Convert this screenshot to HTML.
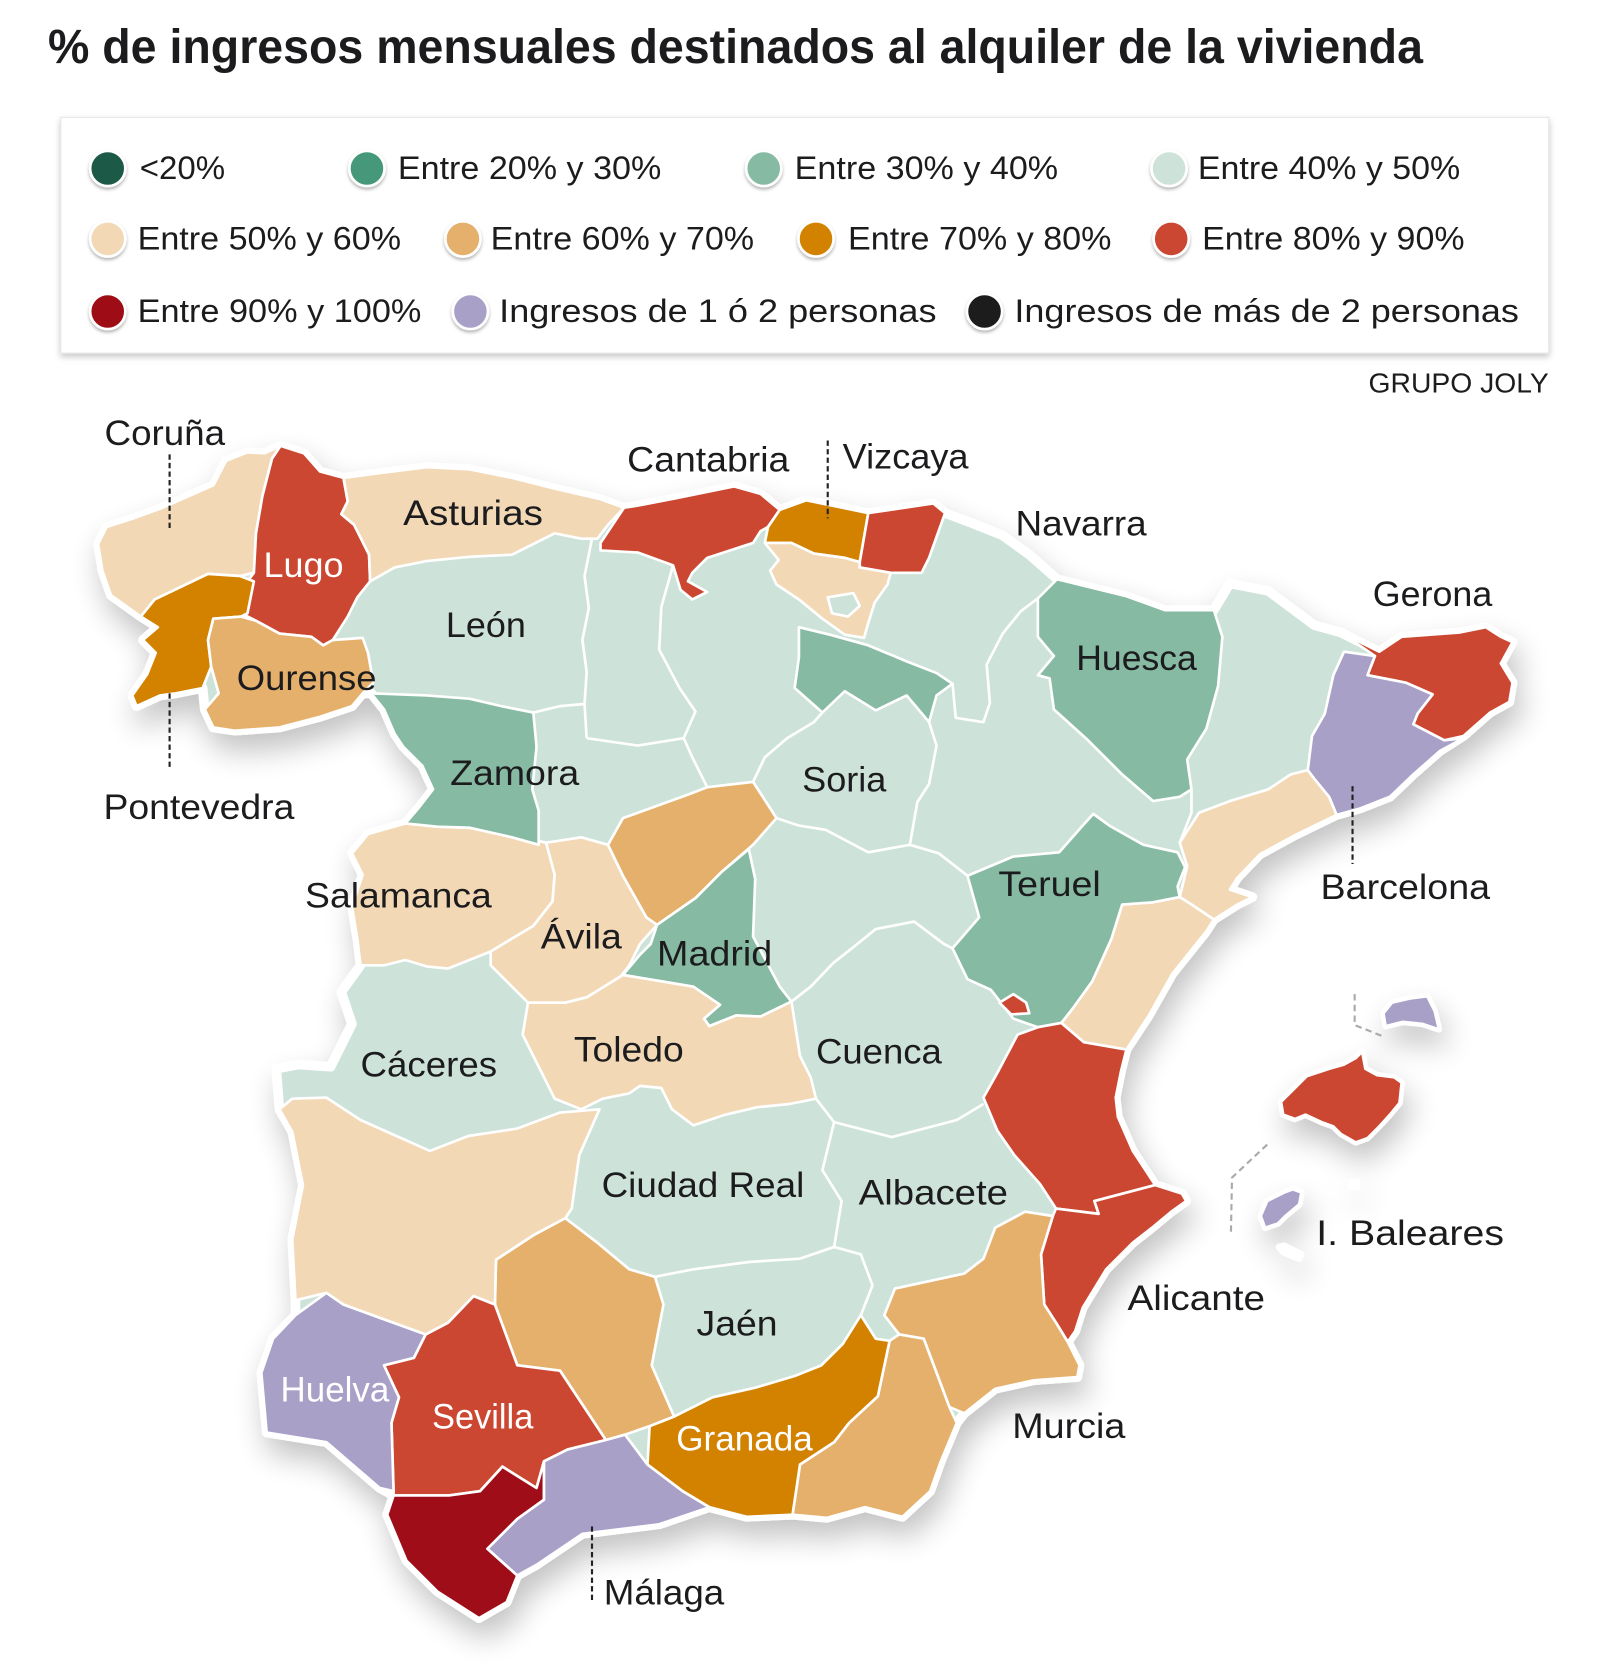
<!DOCTYPE html>
<html>
<head>
<meta charset="utf-8">
<style>
html,body{margin:0;padding:0;background:#fff;}
svg{display:block;}
.t{font-family:"Liberation Sans",Arial,sans-serif;fill:#1c1c1e;}
.lb{font-family:"Liberation Sans",Arial,sans-serif;font-size:33px;fill:#1c1c1e;}
.lw{font-family:"Liberation Sans",Arial,sans-serif;font-size:33px;fill:#ffffff;}
.pv{stroke:#fff;stroke-width:2.5;stroke-linejoin:round;}
.ln{fill:none;stroke:#fff;stroke-width:2.5;stroke-linejoin:round;}
.dot{fill:none;stroke:#222;stroke-width:2;stroke-dasharray:5 3;}
.dg{fill:none;stroke:#aaa;stroke-width:2;stroke-dasharray:6 4;}
</style>
</head>
<body>
<svg width="1600" height="1671" viewBox="0 0 1500 1566.56" preserveAspectRatio="none" xmlns="http://www.w3.org/2000/svg">
<defs>
  <filter id="sh" filterUnits="userSpaceOnUse" x="0" y="300" width="1500" height="1266">
    <feGaussianBlur in="SourceAlpha" stdDeviation="14"/>
    <feOffset dx="5" dy="15" result="b"/>
    <feComponentTransfer><feFuncA type="linear" slope="0.24"/></feComponentTransfer>
    <feMerge><feMergeNode/><feMergeNode in="SourceGraphic"/></feMerge>
  </filter>
  <filter id="bx" x="-5%" y="-10%" width="110%" height="125%">
    <feDropShadow dx="0" dy="3" stdDeviation="3" flood-color="#000" flood-opacity="0.22"/>
  </filter>
  <filter id="cs" x="-50%" y="-50%" width="200%" height="200%">
    <feDropShadow dx="0" dy="2" stdDeviation="1.5" flood-color="#000" flood-opacity="0.3"/>
  </filter>
</defs>

<rect x="0" y="0" width="1500" height="1566.56" fill="#fff"/>

<!-- Title -->
<text class="t" x="45" y="59" font-size="45" font-weight="bold" textLength="1289" lengthAdjust="spacingAndGlyphs">% de ingresos mensuales destinados al alquiler de la vivienda</text>

<!-- Legend box -->
<rect x="57" y="110" width="1395" height="221" fill="#fff" stroke="#e4e4e4" stroke-width="1" filter="url(#bx)"/>

<g stroke="#fff" stroke-width="2.5" filter="url(#cs)">
  <circle cx="101" cy="158" r="16.5" fill="#1e5a46"/>
  <circle cx="344" cy="158" r="16.5" fill="#45997a"/>
  <circle cx="716" cy="158" r="16.5" fill="#86baa3"/>
  <circle cx="1096" cy="158" r="16.5" fill="#cde2d8"/>
  <circle cx="101" cy="224" r="16.5" fill="#f2d8b5"/>
  <circle cx="434" cy="224" r="16.5" fill="#e5b06c"/>
  <circle cx="765" cy="224" r="16.5" fill="#d38200"/>
  <circle cx="1098" cy="224" r="16.5" fill="#cc4731"/>
  <circle cx="101" cy="292" r="16.5" fill="#9e0d18"/>
  <circle cx="441" cy="292" r="16.5" fill="#a9a0c8"/>
  <circle cx="923" cy="292" r="16.5" fill="#1a1a1e"/>
</g>
<g class="t" font-size="30">
  <text x="131" y="168" textLength="80" lengthAdjust="spacingAndGlyphs">&lt;20%</text>
  <text x="373" y="168" textLength="247" lengthAdjust="spacingAndGlyphs">Entre 20% y 30%</text>
  <text x="745" y="168" textLength="247" lengthAdjust="spacingAndGlyphs">Entre 30% y 40%</text>
  <text x="1123" y="168" textLength="246" lengthAdjust="spacingAndGlyphs">Entre 40% y 50%</text>
  <text x="129" y="234" textLength="247" lengthAdjust="spacingAndGlyphs">Entre 50% y 60%</text>
  <text x="460" y="234" textLength="247" lengthAdjust="spacingAndGlyphs">Entre 60% y 70%</text>
  <text x="795" y="234" textLength="247" lengthAdjust="spacingAndGlyphs">Entre 70% y 80%</text>
  <text x="1127" y="234" textLength="246" lengthAdjust="spacingAndGlyphs">Entre 80% y 90%</text>
  <text x="129" y="302" textLength="266" lengthAdjust="spacingAndGlyphs">Entre 90% y 100%</text>
  <text x="468" y="302" textLength="410" lengthAdjust="spacingAndGlyphs">Ingresos de 1 ó 2 personas</text>
  <text x="951" y="302" textLength="473" lengthAdjust="spacingAndGlyphs">Ingresos de más de 2 personas</text>
</g>

<text class="t" x="1283" y="368" font-size="26" textLength="169" lengthAdjust="spacingAndGlyphs">GRUPO JOLY</text>

<!-- Map background / peninsula -->
<polygon filter="url(#sh)" fill="#cde2d8" stroke="#fff" stroke-width="9" stroke-linejoin="round" points="92,510 100,494 125,486 150,477 175,466 200,455 212,432 232,424 248,425 263,418 285,425 300,442 322,448 360,443 400,438 440,440 480,448 520,458 563,468 585,476 598,474 634,467 688,456 713,463 731,478 756,469 814,481 875,472 886,481 910,490 940,502 965,520 991,543 1056,559 1092,572 1138,572 1153,547 1189,554 1232,586 1257,593 1293,611 1314,597 1368,593 1393,588 1407,597 1418,602 1407,622 1418,640 1415,658 1397,668 1372,690 1350,704 1325,726 1303,747 1275,758 1253,764 1214,783 1181,801 1160,823 1153,834 1174,841 1160,848 1138,862 1131,873 1099,913 1077,952 1056,984 1051,1004 1046,1029 1048,1047 1062,1079 1083,1111 1108,1119 1112,1126 1098,1136 1080,1151 1062,1165 1037,1190 1026,1208 1015,1226 1008,1248 1001,1258 1012,1280 1010,1291 969,1294 933,1302 904,1325 897,1334 882,1370 872,1398 846,1422 811,1413 775,1423 743,1420 700,1422 665,1413 618,1429 546,1438 503,1467 485,1477 475,1502 449,1517 410,1492 381,1463 363,1420 369,1402 356,1395 306,1352 250,1343 245,1287 256,1255 277,1233 277,1219 274,1162 284,1111 274,1061 262,1040 259,1002 280,998 310,1000 330,960 320,930 338,905 335,880 330,850 340,820 330,800 345,782 380,772 392,758 406,740 396,718 378,700 370,688 360,665 348,650 340,650 330,662 300,672 262,682 220,685 200,682 192,665 190,645 165,650 150,652 128,662 124,652 138,632 146,612 134,600 148,588 132,578 118,568 104,558 96,535"/>

<!-- Islands -->
<g filter="url(#sh)" stroke="#fff" stroke-width="6" stroke-linejoin="round">
  <polygon fill="#a9a0c8" points="1297,950 1305,940 1322,936 1338,934 1345,948 1349,965 1334,960 1315,958 1299,962"/>
  <polygon fill="#cc4731" points="1201,1033 1210,1024 1225,1009 1246,1002 1260,998 1271,992 1277,986 1280,1002 1291,1008 1307,1010 1314,1015 1312,1034 1303,1045 1293,1056 1282,1067 1271,1071 1257,1063 1250,1056 1239,1052 1224,1045 1214,1049 1203,1045"/>
  <polygon fill="#a9a0c8" points="1182,1140 1188,1126 1204,1118 1212,1115 1220,1118 1218,1129 1205,1140 1198,1147 1186,1151"/>
  <polygon fill="#a9a0c8" points="1199,1169 1204,1168 1220,1176 1218,1180 1203,1174"/>
  <rect x="1267" y="1108" width="5" height="5" fill="#cc4731"/>
</g>
<g class="pv">
  <polygon fill="#a9a0c8" points="1297,950 1305,940 1322,936 1338,934 1345,948 1349,965 1334,960 1315,958 1299,962"/>
  <polygon fill="#cc4731" points="1201,1033 1210,1024 1225,1009 1246,1002 1260,998 1271,992 1277,986 1280,1002 1291,1008 1307,1010 1314,1015 1312,1034 1303,1045 1293,1056 1282,1067 1271,1071 1257,1063 1250,1056 1239,1052 1224,1045 1214,1049 1203,1045"/>
  <polygon fill="#a9a0c8" points="1182,1140 1188,1126 1204,1118 1212,1115 1220,1118 1218,1129 1205,1140 1198,1147 1186,1151"/>
</g>

<!-- Colored provinces -->
<g class="pv">
  <polygon fill="#f2d8b5" points="92,510 100,494 125,486 150,477 175,466 200,455 212,432 232,424 248,425 263,418 255,430 246,465 240,500 238,537 225,540 195,538 170,550 145,562 132,578 118,568 104,558 96,535"/>
  <polygon fill="#cc4731" points="263,418 285,425 300,442 322,448 326,470 320,482 332,492 346,520 347,545 335,560 326,578 312,600 303,605 292,597 262,594 240,582 226,575 232,545 238,537 240,500 246,465 255,430"/>
  <polygon fill="#d38200" points="145,562 170,550 195,538 225,540 238,545 232,575 226,578 200,580 195,600 198,625 190,645 165,650 150,652 128,662 124,652 138,632 146,612 134,600 148,588 132,578"/>
  <polygon fill="#e5b06c" points="200,580 226,578 240,582 262,594 292,597 303,605 312,600 340,598 345,612 350,640 340,650 330,662 300,672 262,682 220,685 200,682 192,665 205,650 198,625 195,600"/>
  <polygon fill="#f2d8b5" points="322,448 360,443 400,438 440,440 480,448 520,458 563,468 585,476 570,492 560,505 545,505 520,500 500,510 480,520 440,522 400,526 370,532 347,545 346,520 332,492 320,482 326,470"/>
  <polygon fill="#cc4731" points="563,509 585,476 598,474 634,467 688,456 713,463 731,478 720,494 713,498 706,509 663,523 649,537 645,545 663,555 649,562 638,553 631,530 598,518 563,516"/>
  <polygon fill="#d38200" points="720,494 731,478 756,469 814,481 806,527 792,523 763,519 742,509 717,509"/>
  <polygon fill="#cc4731" points="814,481 875,472 886,481 871,523 864,537 835,537 806,532 806,527"/>
  <polygon fill="#f2d8b5" points="717,509 742,509 763,519 792,523 806,527 806,532 835,537 832,548 820,565 814,584 810,598 792,595 771,580 749,562 728,548 722,535 730,525"/>
  <polygon fill="#cde2d8" points="776,560 800,556 806,568 795,578 780,575"/>
  <polygon fill="#86baa3" points="749,588 778,595 814,605 850,620 878,631 893,641 878,652 871,677 850,652 821,666 792,648 771,668 745,645 749,616"/>
  <polygon fill="#86baa3" points="973,561 991,543 1056,559 1092,572 1138,572 1146,597 1142,643 1131,683 1113,712 1117,740 1106,747 1081,751 1052,726 1020,694 988,665 984,636 973,633 988,615 973,597"/>
  <polygon fill="#cc4731" points="1257,593 1293,611 1314,597 1368,593 1393,588 1407,597 1418,602 1407,622 1418,640 1415,658 1397,668 1372,690 1354,694 1325,679 1329,669 1343,651 1318,640 1282,633 1289,615"/>
  <polygon fill="#a9a0c8" points="1260,611 1289,615 1282,633 1318,640 1343,651 1329,669 1325,679 1354,694 1372,692 1350,704 1325,726 1303,747 1275,758 1253,764 1246,747 1232,730 1226,722 1230,690 1242,669 1250,633"/>
  <polygon fill="#f2d8b5" points="1226,722 1232,730 1246,747 1253,764 1214,783 1181,801 1160,823 1153,834 1174,841 1160,848 1138,862 1117,848 1106,841 1113,812 1106,790 1124,762 1153,751 1189,740 1210,726"/>
  <polygon fill="#f2d8b5" points="1138,862 1131,873 1099,913 1077,952 1056,984 1016,977 995,959 1006,945 1024,920 1042,880 1052,848 1080,846 1106,841 1117,848"/>
  <polygon fill="#86baa3" points="907,821 950,803 993,799 1015,774 1025,763 1040,774 1072,792 1104,799 1111,813 1104,831 1106,841 1080,846 1052,848 1042,880 1024,920 1006,945 995,959 973,963 950,955 929,928 907,918 893,889 918,860"/>
  <polygon fill="#cc4731" points="954,970 973,963 995,959 1016,977 1056,984 1051,1004 1046,1029 1048,1047 1062,1079 1083,1111 1026,1126 1030,1138 990,1133 975,1110 951,1083 935,1060 922,1029 936,1004"/>
  <polygon fill="#cc4731" points="937,940 950,932 962,940 965,950 948,951"/>
  <polygon fill="#cc4731" points="990,1133 1030,1138 1026,1126 1083,1111 1108,1119 1112,1126 1098,1136 1080,1151 1062,1165 1037,1190 1026,1208 1015,1226 1008,1248 1001,1258 990,1240 979,1223 976,1176 987,1140"/>
  <polygon fill="#e5b06c" points="961,1136 987,1140 976,1176 979,1223 990,1240 1001,1258 1012,1280 1010,1291 969,1294 933,1302 904,1325 890,1319 866,1255 843,1251 829,1233 839,1208 904,1194 922,1180 933,1151"/>
  <polygon fill="#e5b06c" points="834,1257 843,1251 866,1255 890,1319 897,1334 882,1370 872,1398 846,1422 811,1413 775,1423 743,1420 750,1373 782,1352 796,1334 823,1309"/>
  <polygon fill="#d38200" points="807,1233 821,1255 834,1257 823,1309 796,1334 782,1352 750,1373 743,1420 700,1422 665,1413 640,1398 607,1373 609,1337 632,1328 668,1310 708,1301 745,1290 770,1280 790,1260"/>
  <polygon fill="#e5b06c" points="530,1142 560,1165 590,1190 614,1197 622,1223 611,1280 632,1328 609,1337 586,1345 568,1350 525,1285 485,1280 464,1223 465,1181 500,1158"/>
  <polygon fill="#cc4731" points="444,1215 464,1223 485,1280 525,1285 568,1350 532,1359 510,1370 503,1395 471,1375 450,1398 421,1402 369,1402 367,1334 374,1310 360,1280 388,1273 399,1251 420,1240"/>
  <polygon fill="#a9a0c8" points="306,1212 322,1223 399,1251 388,1273 360,1280 374,1310 367,1334 369,1398 356,1395 306,1352 250,1343 245,1287 256,1255 277,1233"/>
  <polygon fill="#9e0d18" points="369,1402 421,1402 450,1398 471,1375 503,1395 510,1370 510,1406 485,1424 457,1452 485,1477 475,1502 449,1517 410,1492 381,1463 363,1420"/>
  <polygon fill="#a9a0c8" points="510,1370 532,1359 568,1350 586,1345 607,1373 640,1398 665,1413 618,1429 546,1438 503,1467 485,1477 457,1452 485,1424 510,1406"/>
  <polygon fill="#f2d8b5" points="262,1040 274,1030 306,1029 338,1050 403,1079 439,1065 485,1058 525,1043 562,1040 543,1083 536,1133 530,1142 500,1158 465,1181 464,1223 444,1215 420,1240 399,1251 322,1223 306,1212 277,1219 274,1162 284,1111 274,1061"/>
  <polygon fill="#f2d8b5" points="338,905 335,880 330,850 340,820 330,800 345,782 380,772 410,775 440,776 480,783 512,790 520,820 518,845 500,868 480,880 460,892 440,900 420,908 400,906 380,900 360,905"/>
  <polygon fill="#86baa3" points="348,650 400,652 440,655 470,662 500,668 503,700 499,740 505,760 505,792 480,785 440,776 410,775 380,772 392,758 406,740 396,718 378,700 370,688 360,665"/>
  <polygon fill="#f2d8b5" points="512,790 545,785 570,792 584,821 606,860 616,867 600,885 590,905 580,918 550,935 530,940 495,940 480,925 460,905 460,892 480,880 500,868 518,845 520,820"/>
  <polygon fill="#e5b06c" points="570,792 584,767 645,745 663,738 706,733 728,767 706,792 677,817 652,842 616,867 606,860 584,821"/>
  <polygon fill="#86baa3" points="616,867 652,842 677,817 702,796 708,824 706,878 731,925 742,939 713,953 690,952 665,962 660,955 675,942 650,925 620,920 584,914 600,895 610,885"/>
  <polygon fill="#f2d8b5" points="495,940 530,940 550,935 584,914 620,920 650,925 675,942 660,955 665,962 690,952 713,953 742,939 750,990 760,1010 765,1030 740,1035 710,1038 680,1045 650,1055 630,1040 620,1020 600,1018 590,1025 565,1030 545,1040 520,1030 510,1010 500,990 490,970"/>
</g>

<!-- Internal boundaries between pale provinces -->
<g class="ln">
  <polyline points="555,505 548,540 552,570 546,600 550,630 548,660 550,692"/>
  <polyline points="500,668 525,662 548,660"/>
  <polyline points="550,692 598,699 641,692"/>
  <polyline points="631,530 620,569 618,609 637,645 652,667 641,692 649,710 663,738"/>
  <polyline points="706,733 717,710 738,692 763,677 771,668"/>
  <polyline points="728,767 749,774 774,778 814,799 853,792 860,752 871,735 878,699 871,677"/>
  <polyline points="853,792 880,800 907,821"/>
  <polyline points="742,939 760,925 781,903 800,888 821,871 857,864 885,885 893,889"/>
  <polyline points="893,641 896,673 922,677 928,659 925,623 940,594 957,573 973,561"/>
  <polyline points="1117,740 1117,762 1106,790"/>
  <polyline points="765,1030 782,1052 836,1066 897,1050 922,1035"/>
  <polyline points="782,1052 771,1097 789,1126 782,1169 807,1176 818,1205 807,1233"/>
  <polyline points="614,1197 650,1190 703,1183 750,1180 782,1169"/>
</g>

<!-- Leader lines -->
<line class="dot" x1="159" y1="426" x2="159" y2="498"/>
<line class="dot" x1="159" y1="650" x2="159" y2="722"/>
<line class="dot" x1="776" y1="413" x2="776" y2="486"/>
<line class="dot" x1="1268" y1="737" x2="1268" y2="810"/>
<line class="dot" x1="555" y1="1431" x2="555" y2="1503"/>
<polyline class="dg" points="1270,932 1270,961 1295,971"/>
<polyline class="dg" points="1188,1073 1155,1104 1154,1156"/>

<!-- Labels -->
<text class="lb" x="98" y="417" textLength="113" lengthAdjust="spacingAndGlyphs">Coruña</text>
<text class="lb" x="588" y="442" textLength="152" lengthAdjust="spacingAndGlyphs">Cantabria</text>
<text class="lb" x="790" y="439" textLength="118" lengthAdjust="spacingAndGlyphs">Vizcaya</text>
<text class="lb" x="378" y="492" textLength="131" lengthAdjust="spacingAndGlyphs">Asturias</text>
<text class="lb" x="952" y="502" textLength="123" lengthAdjust="spacingAndGlyphs">Navarra</text>
<text class="lw" x="247" y="541" textLength="75" lengthAdjust="spacingAndGlyphs">Lugo</text>
<text class="lb" x="1287" y="568" textLength="112" lengthAdjust="spacingAndGlyphs">Gerona</text>
<text class="lb" x="418" y="597" textLength="75" lengthAdjust="spacingAndGlyphs">León</text>
<text class="lb" x="1009" y="628" textLength="113" lengthAdjust="spacingAndGlyphs">Huesca</text>
<text class="lb" x="222" y="647" textLength="131" lengthAdjust="spacingAndGlyphs">Ourense</text>
<text class="lb" x="422" y="736" textLength="121" lengthAdjust="spacingAndGlyphs">Zamora</text>
<text class="lb" x="752" y="742" textLength="79" lengthAdjust="spacingAndGlyphs">Soria</text>
<text class="lb" x="97" y="768" textLength="179" lengthAdjust="spacingAndGlyphs">Pontevedra</text>
<text class="lb" x="936" y="840" textLength="96" lengthAdjust="spacingAndGlyphs">Teruel</text>
<text class="lb" x="1238" y="843" textLength="159" lengthAdjust="spacingAndGlyphs">Barcelona</text>
<text class="lb" x="286" y="851" textLength="175" lengthAdjust="spacingAndGlyphs">Salamanca</text>
<text class="lb" x="507" y="889" textLength="76" lengthAdjust="spacingAndGlyphs">Ávila</text>
<text class="lb" x="616" y="905" textLength="108" lengthAdjust="spacingAndGlyphs">Madrid</text>
<text class="lb" x="338" y="1009" textLength="128" lengthAdjust="spacingAndGlyphs">Cáceres</text>
<text class="lb" x="538" y="995" textLength="103" lengthAdjust="spacingAndGlyphs">Toledo</text>
<text class="lb" x="765" y="997" textLength="118" lengthAdjust="spacingAndGlyphs">Cuenca</text>
<text class="lb" x="564" y="1122" textLength="190" lengthAdjust="spacingAndGlyphs">Ciudad Real</text>
<text class="lb" x="805" y="1129" textLength="140" lengthAdjust="spacingAndGlyphs">Albacete</text>
<text class="lb" x="1234" y="1167" textLength="176" lengthAdjust="spacingAndGlyphs">I. Baleares</text>
<text class="lb" x="1057" y="1228" textLength="129" lengthAdjust="spacingAndGlyphs">Alicante</text>
<text class="lb" x="653" y="1252" textLength="76" lengthAdjust="spacingAndGlyphs">Jaén</text>
<text class="lw" x="263" y="1314" textLength="102" lengthAdjust="spacingAndGlyphs">Huelva</text>
<text class="lw" x="405" y="1339" textLength="95" lengthAdjust="spacingAndGlyphs">Sevilla</text>
<text class="lb" x="949" y="1348" textLength="106" lengthAdjust="spacingAndGlyphs">Murcia</text>
<text class="lw" x="634" y="1360" textLength="128" lengthAdjust="spacingAndGlyphs">Granada</text>
<text class="lb" x="566" y="1504" textLength="113" lengthAdjust="spacingAndGlyphs">Málaga</text>
</svg>
</body>
</html>
